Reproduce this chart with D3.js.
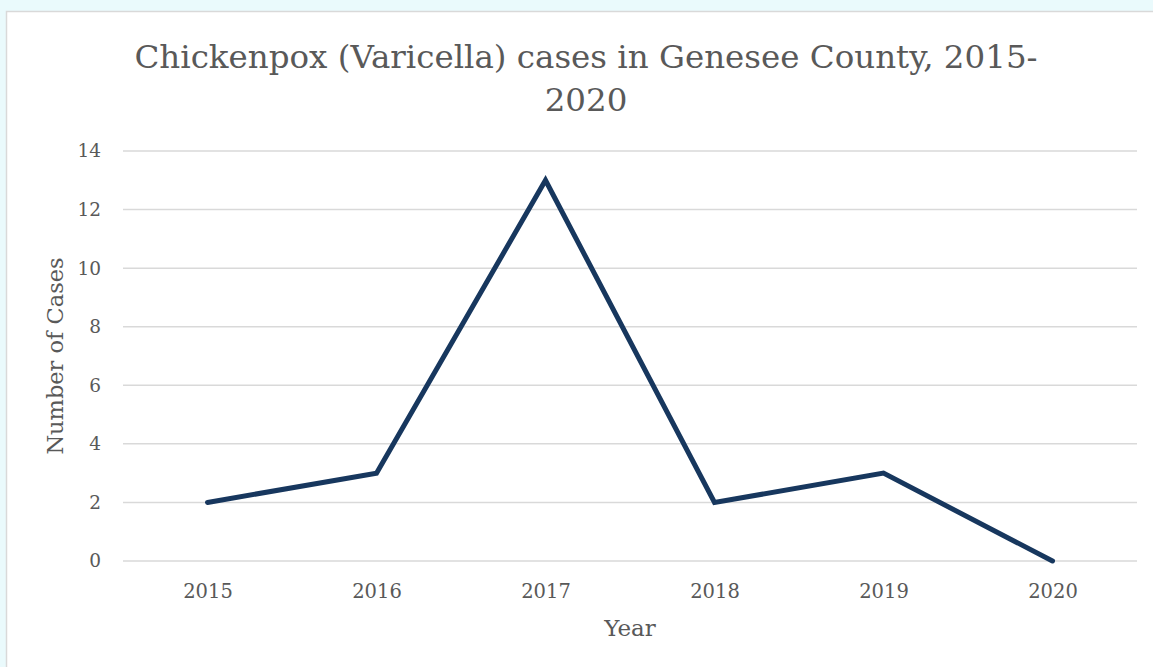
<!DOCTYPE html>
<html>
<head>
<meta charset="utf-8">
<script src="https://cdn.jsdelivr.net/npm/d3@7"></script>
<style>
  html, body { margin: 0; padding: 0; background: #eafafc; }
  body { width: 1153px; height: 667px; overflow: hidden; }
  text { font-family: Georgia, "DejaVu Serif", serif; fill: #595959; }
</style>
</head>
<body>
<div class="chart"></div>
<script>
const years = ["2015", "2016", "2017", "2018", "2019", "2020"]
const cases = [2, 3, 13, 2, 3, 0]
const yTicks = [0, 2, 4, 6, 8, 10, 12, 14]
const titleLines = ["Chickenpox (Varicella) cases in Genesee County, 2015-", "2020"]

const width = 1153
const height = 667
const margin = {top: 151, right: 16, bottom: 106, left: 123}

const svg = d3.select(".chart").append("svg")
  .attr("width", width)
  .attr("height", height)

// white chart area with thin gray frame
svg.append("rect")
  .attr("x", 6.5)
  .attr("y", 11.5)
  .attr("width", width)
  .attr("height", height)
  .attr("fill", "#fff")
  .attr("stroke", "#d9d9d9")
  .attr("stroke-width", 1.5)

const x = d3.scalePoint()
  .domain(years)
  .range([margin.left, width - margin.right])
  .padding(0.5)

const y = d3.scaleLinear()
  .domain([0, 14])
  .range([height - margin.bottom, margin.top])

// gridlines
svg.append("g")
  .selectAll("line")
  .data(yTicks)
  .join("line")
    .attr("x1", margin.left)
    .attr("x2", width - margin.right)
    .attr("y1", d => y(d))
    .attr("y2", d => y(d))
    .attr("stroke", "#d9d9d9")
    .attr("stroke-width", 1.5)

// y axis labels
const yAxis = svg.append("g")
  .attr("transform", `translate(${margin.left - 22},0)`)
  .call(d3.axisLeft(y).tickValues(yTicks).tickSize(0).tickPadding(0))
yAxis.select(".domain").remove()
yAxis.selectAll("text")
  .attr("font-size", 18.5)
  .style("font-family", 'Georgia, "DejaVu Serif", serif')
  .attr("fill", "#595959")

// x axis labels
const xAxis = svg.append("g")
  .attr("transform", `translate(0,${y(0)})`)
  .call(d3.axisBottom(x).tickSize(0).tickPadding(23))
xAxis.select(".domain").remove()
xAxis.selectAll("text")
  .attr("font-size", 19.5)
  .style("font-family", 'Georgia, "DejaVu Serif", serif')
  .attr("fill", "#595959")

// the line
const line = d3.line()
  .x((d, i) => x(years[i]))
  .y(d => y(d))

svg.append("path")
  .datum(cases)
  .attr("d", line)
  .attr("fill", "none")
  .attr("stroke", "#17375e")
  .attr("stroke-width", 5)
  .attr("stroke-linejoin", "miter")
  .attr("stroke-linecap", "round")

// title
svg.append("g")
  .selectAll("text")
  .data(titleLines)
  .join("text")
    .attr("x", 586)
    .attr("y", (d, i) => 68 + i * 43)
    .attr("text-anchor", "middle")
    .attr("font-size", 32.5)
    .text(d => d)

// axis titles
svg.append("text")
  .attr("transform", `translate(63,${(y(0) + y(14)) / 2}) rotate(-90)`)
  .attr("text-anchor", "middle")
  .attr("font-size", 22.5)
  .text("Number of Cases")

svg.append("text")
  .attr("x", 630)
  .attr("y", 636)
  .attr("text-anchor", "middle")
  .attr("font-size", 23)
  .text("Year")
</script>
</body>
</html>
